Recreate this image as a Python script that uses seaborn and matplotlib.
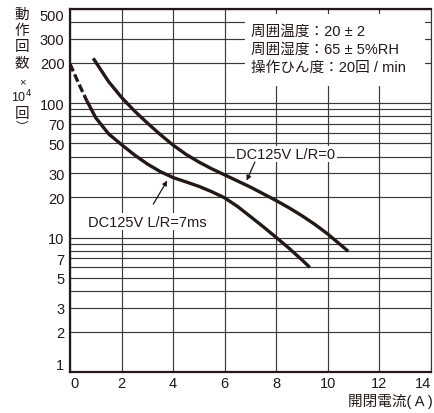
import matplotlib
matplotlib.use("Agg")
import matplotlib.pyplot as plt
from matplotlib.patches import Rectangle
from matplotlib.ticker import NullLocator
import pandas as pd
import seaborn as sns

# ---- data -------------------------------------------------------------
# DC125V, L/R = 0 (resistive load)
current_r = [0.9, 1.5, 2.0, 2.5, 3.0, 3.5, 4.0, 4.5, 5.0, 5.5, 6.0, 6.5,
             7.0, 7.5, 8.0, 8.5, 9.0, 9.5, 10.0, 10.5, 10.79]
life_r = [215, 144, 110, 87.3, 71, 58.3, 48.6, 41.5, 36.4, 32.4, 29.2, 26.3,
          23.7, 21.1, 18.8, 16.6, 14.5, 12.5, 10.6, 8.8, 7.9]

# DC125V, L/R = 7ms (inductive load); the first part is drawn dashed
current_l_dash = [0.0, 0.32, 0.65]
life_l_dash = [195, 142, 104]
current_l = [0.65, 1.0, 1.5, 2.0, 2.5, 3.0, 3.5, 4.0, 4.5, 5.0, 5.5, 6.0,
             6.5, 7.0, 7.5, 8.0, 8.5, 9.0, 9.3]
life_l = [104, 77.6, 58.9, 49.0, 41.1, 35.2, 30.9, 27.9, 25.9, 24.0, 21.9,
          19.7, 17.0, 14.3, 12.0, 10.0, 8.3, 6.8, 6.0]

x_ticks = [0, 2, 4, 6, 8, 10, 12, 14]
y_labeled = [1, 2, 3, 5, 7, 10, 20, 30, 50, 70, 100, 200, 300, 500]
y_grid = [1, 2, 3, 4, 5, 6, 7, 8, 9, 10, 20, 30, 40, 50, 60, 70, 80, 90,
          100, 200, 300, 400, 500]

conditions = ["周囲温度：20 ± 2", "周囲湿度：65 ± 5%RH", "操作ひん度：20回 / min"]
label_r = "DC125V L/R=0"
label_l = "DC125V L/R=7ms"
x_title = "開閉電流( A )"
y_title = ["動", "作", "回", "数", "×", "10$^4$", "回", "︶"]

# ---- style ------------------------------------------------------------
sns.set_style("white")
plt.rcParams["font.family"] = ["Liberation Sans", "Noto Sans CJK JP", "DejaVu Sans"]
INK = "#231815"
GRID = "#3a3a3a"

W, H = 434, 414
fig = plt.figure(figsize=(W / 100, H / 100), dpi=100)
ax = fig.add_axes([70 / W, 41 / H, 361 / W, 363 / H])

df_r = pd.DataFrame({"I": current_r, "N": life_r})
df_ld = pd.DataFrame({"I": current_l_dash, "N": life_l_dash})
df_l = pd.DataFrame({"I": current_l, "N": life_l})

common = dict(ax=ax, color=INK, lw=2.4, sort=False, estimator=None)
sns.lineplot(data=df_r, x="I", y="N", **common)
sns.lineplot(data=df_l, x="I", y="N", **common)
sns.lineplot(data=df_ld, x="I", y="N", linestyle=(0, (2.4, 1.0)), **common)
for ln in ax.lines:
    ln.set_solid_capstyle("butt")
    ln.set_solid_joinstyle("round")

ax.set_yscale("log")
ax.set_xlim(0, 14)
ax.set_ylim(1, 500)
ax.set_xlabel("")
ax.set_ylabel("")

ax.set_xticks(x_ticks)
ax.set_xticklabels([str(v) for v in x_ticks])
ax.set_yticks(y_grid)
ax.set_yticklabels([str(v) if v in y_labeled else "" for v in y_grid])
ax.yaxis.set_minor_locator(NullLocator())
ax.xaxis.set_minor_locator(NullLocator())

ax.set_axisbelow(True)
ax.grid(True, which="major", color=GRID, lw=0.85)
ax.tick_params(length=0, labelsize=10.5, colors=INK)
ax.tick_params(axis="x", pad=3)
ax.tick_params(axis="y", pad=4)

# keep the end labels inside the frame
xlabels = ax.get_xticklabels()
xlabels[0].set_horizontalalignment("left")
xlabels[-1].set_horizontalalignment("right")
ylabels = ax.get_yticklabels()
ylabels[0].set_verticalalignment("bottom")
ylabels[-1].set_verticalalignment("top")

for side in ("left", "bottom", "top"):
    ax.spines[side].set_color(INK)
    ax.spines[side].set_linewidth(1.6)
ax.spines["right"].set_color(GRID)
ax.spines["right"].set_linewidth(0.85)

# conditions box
ax.add_patch(Rectangle((0.4848, 0.788), 0.4986, 0.198, transform=ax.transAxes,
                       facecolor="white", edgecolor="none", zorder=1.5))
ax.text(0.501, 0.8898, "\n".join(conditions), transform=ax.transAxes,
        ha="left", va="center", fontsize=10.5, color=INK, linespacing=1.38,
        zorder=3)

# curve labels
box = dict(facecolor="white", edgecolor="none", pad=1.0)
ax.text(8.37, 41.8, label_r, ha="center", va="center", fontsize=10.5,
        color=INK, bbox=box, zorder=3)
ax.text(2.98, 13.1, label_l, ha="center", va="center", fontsize=10.5,
        color=INK, bbox=box, zorder=3)
arrow = dict(arrowstyle="-|>", color=INK, lw=0.9, mutation_scale=7,
             shrinkA=0, shrinkB=0)
ax.annotate("", xy=(6.85, 26.5), xytext=(7.17, 36.4), arrowprops=arrow, zorder=3)
ax.annotate("", xy=(3.77, 26.5), xytext=(3.23, 17.7), arrowprops=arrow, zorder=3)

# axis titles
fig.text(348 / W, 1 - 402 / H, x_title, ha="left", va="center",
         fontsize=10.5, color=INK)
y_pos = [15, 31, 47, 63, 82, 97, 114, 128]
y_size = [10.5, 10.5, 10.5, 10.5, 8, 9, 10.5, 9]
for ch, py, fs in zip(y_title, y_pos, y_size):
    fig.text(22 / W, 1 - py / H, ch, ha="center", va="center",
             fontsize=fs, color=INK)

fig.savefig("out.png", dpi=100)
